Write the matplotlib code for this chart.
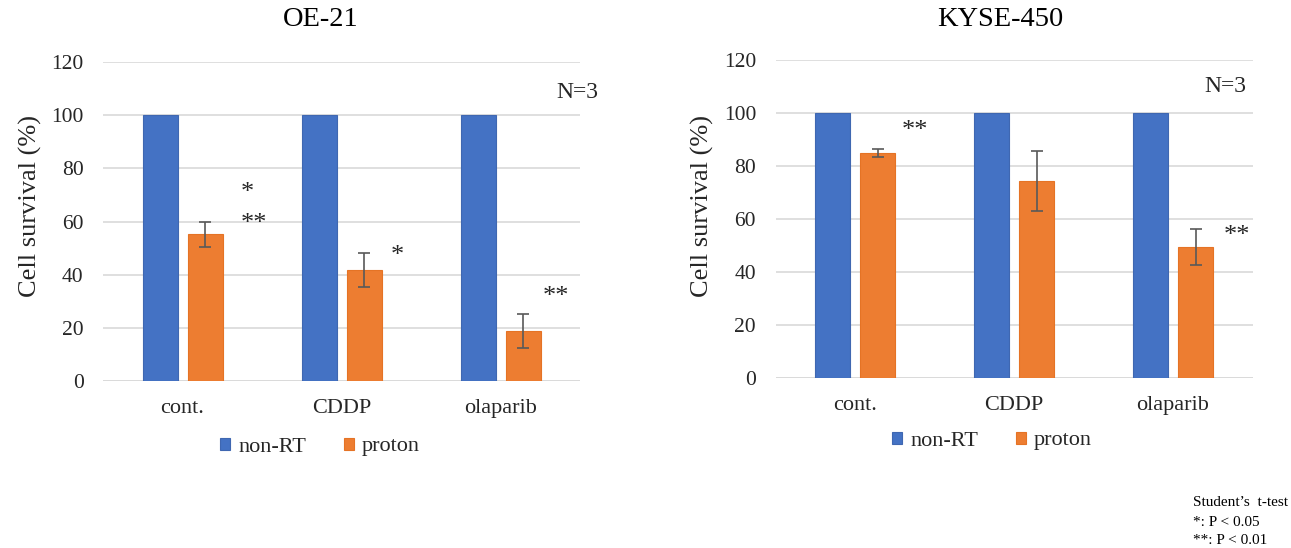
import matplotlib.pyplot as plt
import numpy as np

plt.rcParams['font.family'] = ['Liberation Serif', 'DejaVu Serif']

categories = ["cont.", "CDDP", "olaparib"]
series_names = ["non-RT", "proton"]

oe21_nonrt = [100, 100, 100]
oe21_proton = [55.2, 41.7, 18.8]
oe21_err = [4.8, 6.4, 6.4]

kyse_nonrt = [100, 100, 100]
kyse_proton = [84.8, 74.1, 49.3]
kyse_err = [1.4, 11.4, 6.7]

# significance marks: (x position, y position, text)
oe21_marks = [(0.41, 70.8, "*"), (0.45, 59.2, "**"), (1.35, 47.0, "*"), (2.35, 31.5, "**")]
kyse_marks = [(0.38, 93.0, "**"), (2.40, 53.5, "**")]

blue = "#4472C4"
orange = "#ED7D31"
grid_c = "#D9D9D9"


def draw(ax, nonrt, proton, err, marks, n_pos):
    x = np.arange(len(categories))
    w = 0.22
    off = 0.1415
    ax.bar(x - off, nonrt, w, color=blue, edgecolor="#3F67B1", linewidth=0.8,
           label=series_names[0], zorder=3)
    ax.bar(x + off, proton, w, color=orange, edgecolor="#E57325", linewidth=0.8,
           label=series_names[1], zorder=3)
    ax.errorbar(x + off, proton, yerr=err, fmt="none", ecolor="#595959",
                elinewidth=1.2, capsize=4, capthick=1.2, zorder=4)
    for mx, my, t in marks:
        ax.text(mx, my, t, ha="center", va="center", fontsize=19, color="#262626")
    ax.text(n_pos[0], n_pos[1], "N=3", ha="center", va="center", fontsize=17,
            color="#262626")
    ax.set_xlim(-0.5, 2.5)
    ax.set_ylim(0, 120)
    ax.set_yticks(range(0, 121, 20))
    ax.set_xticks(x)
    ax.set_xticklabels(categories)
    ax.yaxis.grid(True, color=grid_c, linewidth=1.2, zorder=0)
    ax.set_axisbelow(True)
    for s in ax.spines.values():
        s.set_visible(False)
    ax.axhline(0, color=grid_c, linewidth=1.2, zorder=1)
    ax.tick_params(axis="y", length=0, pad=14, labelsize=15.5, labelcolor="#262626")
    ax.tick_params(axis="x", length=0, pad=13, labelsize=16, labelcolor="#262626")


fig = plt.figure(figsize=(12.91, 5.48), dpi=100)
ax1 = fig.add_axes([0.0798, 0.3047, 0.3695, 0.5821])
ax2 = fig.add_axes([0.6007, 0.3111, 0.3695, 0.5803])

draw(ax1, oe21_nonrt, oe21_proton, oe21_err, oe21_marks, (2.48, 108.5))
draw(ax2, kyse_nonrt, kyse_proton, kyse_err, kyse_marks, (2.33, 110))

fig.text(321 / 1291, 1 - 20 / 548, "OE-21", ha="center", va="center", fontsize=20.5)
fig.text(1000 / 1291, 1 - 20 / 548, "KYSE-450", ha="center", va="center", fontsize=20.5)
fig.text(30 / 1291, 1 - 206 / 548, "Cell survival (%)", rotation=90, ha="center",
         va="center", fontsize=19, color="#262626")
fig.text(702 / 1291, 1 - 206 / 548, "Cell survival (%)", rotation=90, ha="center",
         va="center", fontsize=19, color="#262626")

for ax, cx, cy in [(ax1, 320, 447), (ax2, 992, 441)]:
    ax.legend(loc="center", bbox_to_anchor=(cx / 1291, 1 - cy / 548),
              bbox_transform=fig.transFigure, ncol=2, frameon=False, fontsize=16,
              handlelength=0.45, handleheight=0.45, handletextpad=0.35,
              columnspacing=1.7, labelcolor="#262626")

fig.text(1193 / 1291, 1 - 503 / 548, "Student\u2019s  t-test", ha="left", va="center", fontsize=11)
fig.text(1193 / 1291, 1 - 522 / 548, "*: P < 0.05", ha="left", va="center", fontsize=11)
fig.text(1193 / 1291, 1 - 541 / 548, "**: P < 0.01", ha="left", va="center", fontsize=11)

fig.savefig("out.png", dpi=100)
